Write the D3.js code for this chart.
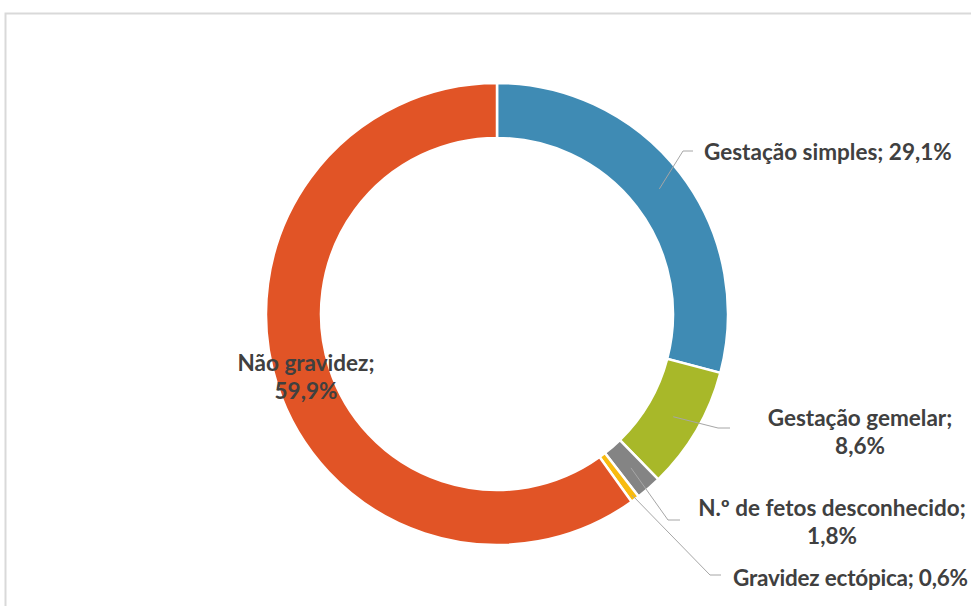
<!DOCTYPE html>
<html>
<head>
<meta charset="utf-8">
<script src="https://cdn.jsdelivr.net/npm/d3@7"></script>
<style>
  html, body { margin: 0; padding: 0; background: #fff; }
  svg { display: block; }
</style>
</head>
<body>
<svg id="chart" width="971" height="606"></svg>
<script>
const categories = ["Gestação simples", "Gestação gemelar", "N.º de fetos desconhecido", "Gravidez ectópica", "Não gravidez"];
const values = [29.1, 8.6, 1.8, 0.6, 59.9];
const valueLabels = ["29,1%", "8,6%", "1,8%", "0,6%", "59,9%"];
const colors = ["#3f8bb4", "#a8b829", "#848484", "#f8bb10", "#e15426"];

const svg = d3.select("#chart");
const W = 971, H = 606;

// chart frame
svg.append("rect")
  .attr("x", 5.5).attr("y", 13.5)
  .attr("width", W + 10).attr("height", H + 10)
  .attr("fill", "#fff").attr("stroke", "#d9d9d9").attr("stroke-width", 2);

const cx = 497, cy = 314, rOuter = 231, rInner = 176;
const g = svg.append("g").attr("transform", `translate(${cx},${cy})`);

const data = categories.map((c, i) => ({ name: c, value: values[i], label: valueLabels[i], color: colors[i] }));
const pie = d3.pie().sort(null).value(d => d.value);
const arcs = pie(data);
const arc = d3.arc().innerRadius(rInner).outerRadius(rOuter);

g.selectAll("path.slice").data(arcs).enter().append("path")
  .attr("class", "slice")
  .attr("d", arc)
  .attr("fill", d => d.data.color)
  .attr("stroke", "#fff").attr("stroke-width", 2.5);

// label layout (positions relative to page)
const layout = [
  { lines: [d => d.data.name + "; " + d.data.label], x: 704, y: 152, anchor: "start", r: 205, bend: [683, 151], end: [693, 151] },
  { lines: [d => d.data.name + ";", d => d.data.label], x: 860, y: 418, anchor: "middle", r: 204, bend: [718, 428], end: [730, 428] },
  { lines: [d => d.data.name + ";", d => d.data.label], x: 832, y: 508, anchor: "middle", r: 204, bend: [668, 520], end: [680, 520] },
  { lines: [d => d.data.name + "; " + d.data.label], x: 733, y: 578, anchor: "start", r: 226, bend: [710, 575], end: [721, 575], fit: 235 },
  { lines: [d => d.data.name + ";", d => d.data.label], x: 306, y: 363, anchor: "middle", r: null }
];
const lineH = 28;

arcs.forEach((a, i) => {
  const L = layout[i];
  if (L.r) {
    const mid = (a.startAngle + a.endAngle) / 2;
    const sx = cx + L.r * Math.sin(mid), sy = cy - L.r * Math.cos(mid);
    svg.append("polyline")
      .attr("points", [[sx, sy], L.bend, L.end].map(p => p.join(",")).join(" "))
      .attr("fill", "none").attr("stroke", "#a6a6a6").attr("stroke-width", 1);
  }
  const t = svg.append("text")
    .attr("text-anchor", L.anchor)
    .attr("font-family", "Lato, 'Open Sans', sans-serif")
    .attr("font-weight", "bold")
    .attr("font-size", 22.5)
    .attr("fill", "#404040");
  L.lines.forEach((fn, k) => {
    const ts = t.append("tspan").attr("x", L.x).attr("y", L.y + k * lineH).attr("dy", "0.35em").text(fn(a));
    if (L.fit) {
      const w = ts.node().getComputedTextLength();
      if (w > L.fit) ts.attr("textLength", L.fit).attr("lengthAdjust", "spacing");
    }
  });
});
</script>
</body>
</html>
